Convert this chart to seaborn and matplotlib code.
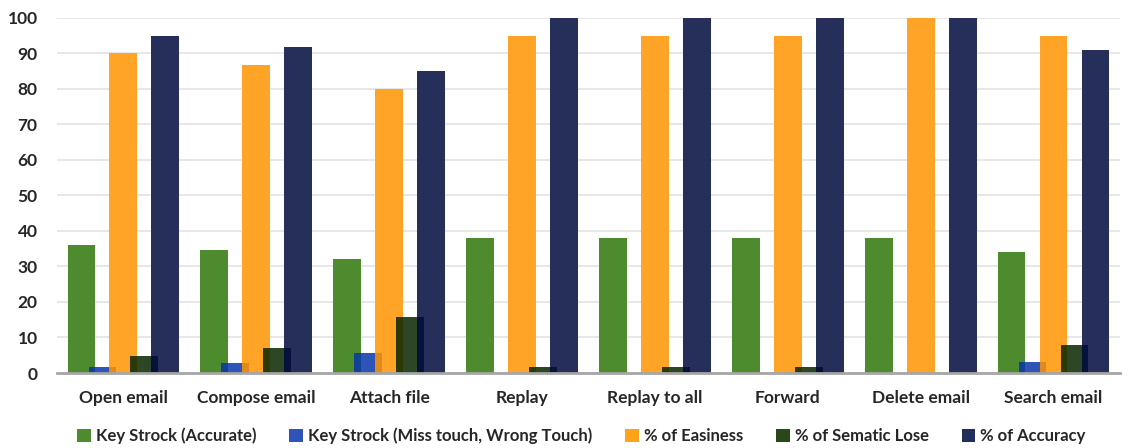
import numpy as np
import pandas as pd
import matplotlib
matplotlib.use("Agg")
import matplotlib.pyplot as plt
import seaborn as sns
from matplotlib.patches import Patch

# ==========================================
# DATA
# ==========================================

tasks = ["Open email", "Compose email", "Attach file", "Replay",
         "Replay to all", "Forward", "Delete email", "Search email"]

key_accurate = [36.1, 34.6, 32.1, 38.0, 38.0, 38.0, 38.0, 34.2]
key_miss = [1.8, 2.9, 5.5, 0, 0, 0, 0, 3.2]
easiness = [90, 86.7, 80, 95, 95, 95, 100, 95]
sematic_lose = [4.8, 7.0, 15.9, 1.8, 1.8, 1.8, 0, 7.9]
accuracy = [95, 91.8, 85, 100, 100, 100, 100, 91]

series_names = ["Key Strock (Accurate)", "Key Strock (Miss touch, Wrong Touch)",
                "% of Easiness", "% of Sematic Lose", "% of Accuracy"]
series_values = [key_accurate, key_miss, easiness, sematic_lose, accuracy]
# colours as they look on white; the bars are drawn slightly see-through
shown_colors = ["#4E8A2E", "#2D54B6", "#FFA41A", "#2C461B", "#1F2E5A"]
bar_colors = ["#4E8A2E", "#0836A9", "#FF9400", "#072600", "#00093D"]
ALPHA = 0.85

# ==========================================
# PLOT
# ==========================================

sns.set_style("white")
plt.rcParams["font.family"] = ["Lato", "DejaVu Sans"]
plt.rcParams["font.weight"] = "bold"

fig = plt.figure(figsize=(11.29, 4.48), dpi=100)
ax = fig.add_axes([0.0505, 0.1674, 0.9415, 0.7926])

idx = np.arange(len(tasks))
offsets = [-0.316, -0.158, 0.0, 0.158, 0.316]

# white underlay so the grid does not show through the bars
for i in range(5):
    df = pd.DataFrame({"x": idx + offsets[i], "y": series_values[i]})
    sns.barplot(data=df, x="x", y="y", native_scale=True, width=0.21,
                color="white", saturation=1, edgecolor="none", ax=ax)

# series in order, each one overlapping the previous one a little
for i in range(5):
    df = pd.DataFrame({"x": idx + offsets[i], "y": series_values[i]})
    sns.barplot(data=df, x="x", y="y", native_scale=True, width=0.21,
                color=bar_colors[i], saturation=1,
                alpha=1.0 if i == 0 else ALPHA,
                edgecolor="none", ax=ax)

ax.set_xlim(-0.5, 7.5)
ax.set_ylim(0, 100)
ax.set_yticks(range(0, 101, 10))
ax.set_xticks(idx)
ax.set_xticklabels(tasks)
ax.set_xlabel("")
ax.set_ylabel("")
ax.yaxis.grid(True, color="#E3E3E3", linewidth=1.2)
ax.set_axisbelow(True)
for s in ["top", "right", "left"]:
    ax.spines[s].set_visible(False)
ax.spines["bottom"].set_color("#A6A6A6")
ax.spines["bottom"].set_linewidth(2)
ax.tick_params(axis="y", length=0, pad=14, labelsize=12.5)
ax.tick_params(axis="x", length=0, pad=12, labelsize=12.5)

handles = [Patch(facecolor=c, edgecolor="none") for c in shown_colors]
fig.legend(handles, series_names, loc="lower center", ncol=5, frameon=False,
           bbox_to_anchor=(0.515, -0.025), fontsize=12, handlelength=0.8,
           handleheight=0.8, handletextpad=0.3, columnspacing=2.0)

plt.savefig("out.png", dpi=100)
